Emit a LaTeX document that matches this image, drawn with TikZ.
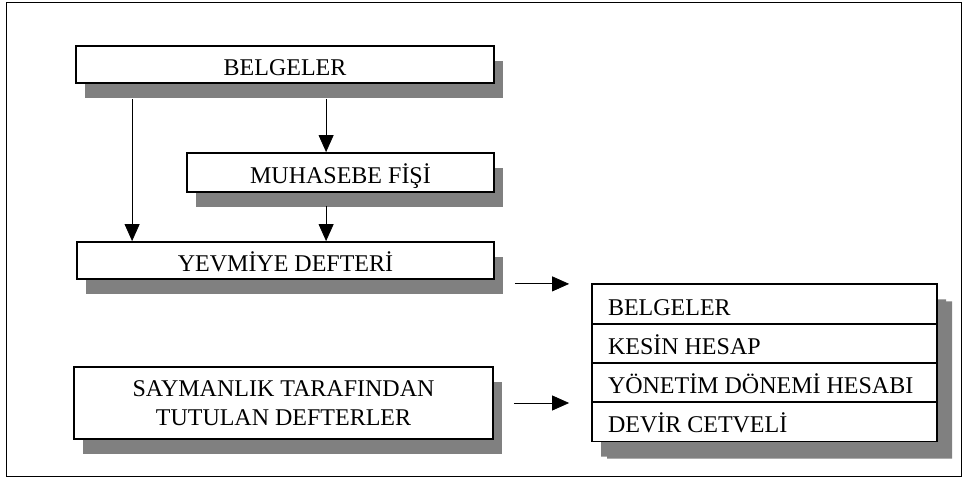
\documentclass[tikz,border=0pt]{standalone}
\usepackage{fontspec}
\setmainfont{Liberation Serif}
\usetikzlibrary{arrows.meta,positioning,calc,shadows,shapes.multipart}
\newcommand\dikme{\rule[-3pt]{0pt}{28pt}}
\tikzset{
  kutu/.style={draw=black,line width=1.8pt,fill=white,align=center,
    font=\fontsize{24}{29}\selectfont,inner sep=0pt,
    drop shadow={shadow xshift=9pt,shadow yshift=-15pt,fill=black!50,opacity=1}},
  teksatir/.style={text height=22pt,text depth=0pt},
  liste/.style={kutu,rectangle split,rectangle split parts=4,
    rectangle split part align=left,inner xsep=16pt,inner ysep=4.75pt,
    minimum width=345pt,
    drop shadow={shadow xshift=15pt,shadow yshift=-17pt,fill=black!50,opacity=1}},
  akis/.style={line width=0.8pt,-{Triangle[length=17pt,width=15pt]}},
  cerceve/.style={line width=0.8pt,black}
}
\begin{document}
\begin{tikzpicture}[x=1pt,y=1pt]
  \useasboundingbox (0,0) rectangle (963,495);
  \draw[cerceve] (6,19) rectangle (961,493);
  % left column
  \node[kutu,teksatir,minimum width=418pt,minimum height=37pt] (belgeler) at (285,430.5) {BELGELER};
  \node[kutu,teksatir,minimum width=307pt,minimum height=39pt] (fis) at (340.5,322.5) {MUHASEBE FİŞİ};
  \node[kutu,teksatir,minimum width=417pt,minimum height=37pt] (yevmiye) at (285.5,234.5) {YEVMİYE DEFTERİ};
  \node[kutu,minimum width=419pt,minimum height=72pt] (saymanlik) at (283.5,92)
    {SAYMANLIK TARAFINDAN\\TUTULAN DEFTERLER};
  % right list
  \node[liste] (liste) at (764.5,132)
    {\dikme BELGELER
     \nodepart{two}\dikme KESİN HESAP
     \nodepart{three}\dikme YÖNETİM DÖNEMİ HESABI
     \nodepart{four}\dikme DEVİR CETVELİ};
  % connectors
  \coordinate (sol) at ([xshift=56pt]yevmiye.north west);
  \coordinate (orta) at ([xshift=140pt]fis.north west);
  \coordinate (sag) at ([yshift=-4pt]yevmiye.south east);
  \draw[akis,shorten <=15pt] (belgeler.south -| sol) -- (sol);
  \draw[akis,shorten <=15pt] (belgeler.south -| orta) -- (orta);
  \draw[akis,shorten <=13pt] (fis.south -| orta) -- (yevmiye.north -| orta);
  \draw[akis,shorten <=20pt,shorten >=22pt] (sag) -- (sag -| liste.west);
  \draw[akis,shorten <=20pt,shorten >=22pt] (saymanlik.east) -- (saymanlik.east -| liste.west);
\end{tikzpicture}
\end{document}
